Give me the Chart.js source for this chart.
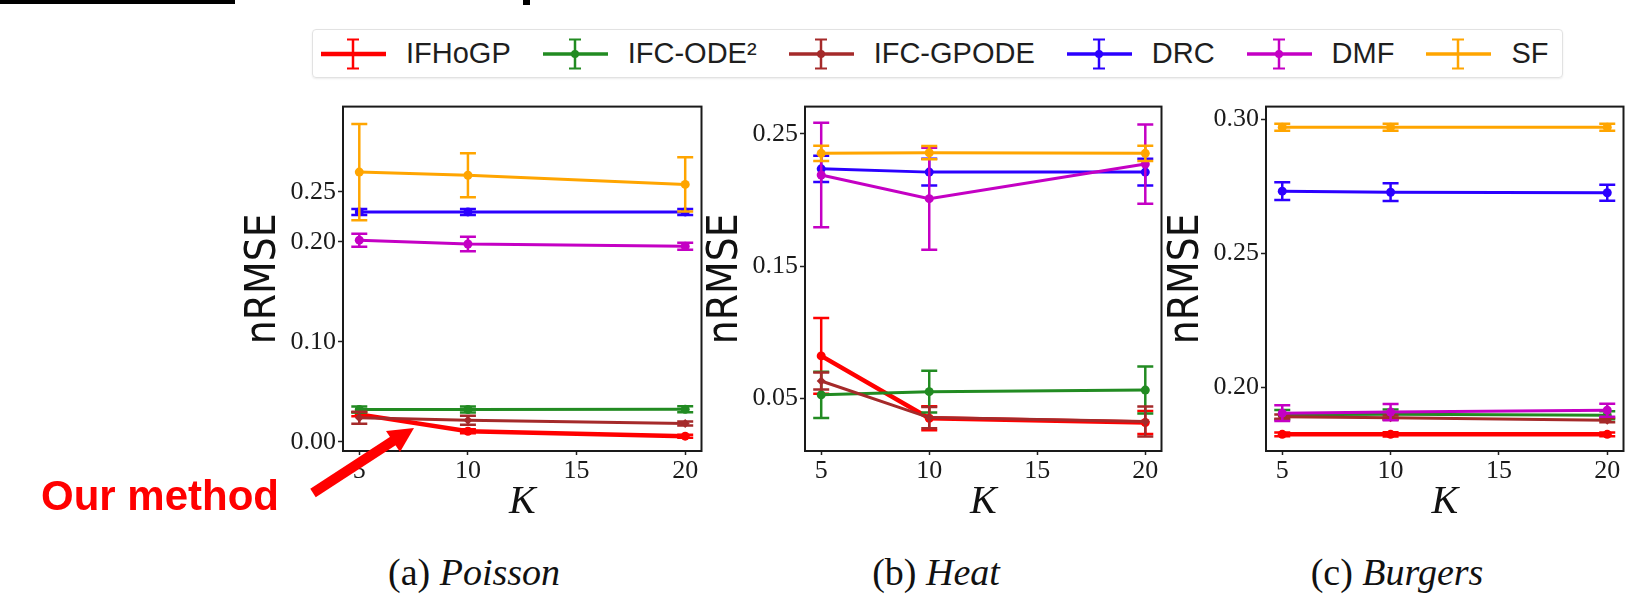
<!DOCTYPE html>
<html>
<head>
<meta charset="utf-8">
<title>nRMSE vs K</title>
<script src="https://cdn.jsdelivr.net/npm/chart.js@4.4.1/dist/chart.umd.min.js"></script>
<style>
  body { margin: 0; width: 1637px; height: 596px; background: #fff; position: relative; overflow: hidden; }
  .panel { position: absolute; top: 89px; height: 442px; }
  #panelA { left: 243px; width: 463px; }
  #panelB { left: 705px; width: 461px; }
  #panelC { left: 1166px; width: 462px; }
  #legend {
    position: absolute; left: 312px; top: 29px; width: 1241px; height: 47px;
    border: 1px solid #e2e2e2; border-radius: 4px; box-shadow: 0 1px 2px rgba(0,0,0,0.08);
    display: flex; align-items: center; padding-left: 8px; box-sizing: content-box;
    font-family: "Liberation Sans", Arial, sans-serif; font-size: 29px; color: #1e1e1e;
    white-space: nowrap;
  }
  #legend .item { display: flex; align-items: center; margin-right: 32px; flex: none; }
  #legend svg { margin-right: 20px; flex: none; }
  .caption {
    position: absolute; top: 553px; font-family: "Liberation Serif", serif; font-size: 38px;
    line-height: 1; color: #111; white-space: nowrap; transform: translateX(-50%);
  }
  #note {
    position: absolute; left: 41px; top: 475px; font-family: "Liberation Sans", Arial, sans-serif;
    font-weight: bold; font-size: 42px; line-height: 1; color: #ff0000; white-space: nowrap;
  }
  .crop { position: absolute; background: #000; }
</style>
</head>
<body>
<div class="crop" style="left:0;top:0;width:235px;height:4px"></div>
<div class="crop" style="left:523px;top:0;width:7px;height:5px"></div>

<div id="legend"></div>

<div class="panel" id="panelA"><canvas id="chartA"></canvas></div>
<div class="panel" id="panelB"><canvas id="chartB"></canvas></div>
<div class="panel" id="panelC"><canvas id="chartC"></canvas></div>

<div class="caption" style="left:474px">(a) <i>Poisson</i></div>
<div class="caption" style="left:936px">(b) <i>Heat</i></div>
<div class="caption" style="left:1397px">(c) <i>Burgers</i></div>

<div id="note">Our method</div>
<svg width="1637" height="596" style="position:absolute;left:0;top:0;pointer-events:none">
  <line x1="313" y1="493" x2="396" y2="439" stroke="#ff0000" stroke-width="10"/>
  <polygon points="414,428 386,431 400,452" fill="#ff0000"/>
</svg>

<script>
const kValues = [5, 10, 20];
const xTicks = [5, 10, 15, 20];
const methodNames = ['IFHoGP', 'IFC-ODE²', 'IFC-GPODE', 'DRC', 'DMF', 'SF'];
const methodColors = ['#ff0000', '#228b22', '#a52a2a', '#2b00ff', '#c400c4', '#ffa500'];

// (a) Poisson: rows follow methodNames, columns follow kValues
const poissonMean = [
  [0.0276, 0.0107, 0.0058],
  [0.0324, 0.0324, 0.0326],
  [0.0243, 0.0217, 0.0185],
  [0.2298, 0.2298, 0.2298],
  [0.2016, 0.1978, 0.1955],
  [0.2696, 0.2664, 0.2573]
];
const poissonErr = [
  [0.002, 0.002, 0.0015],
  [0.003, 0.003, 0.003],
  [0.006, 0.0045, 0.002],
  [0.003, 0.003, 0.003],
  [0.0065, 0.0073, 0.0035],
  [0.048, 0.022, 0.027]
];
const poissonTicks = [0.00, 0.10, 0.20, 0.25];

// (b) Heat
const heatMean = [
  [0.082, 0.0348, 0.0316],
  [0.0525, 0.0549, 0.0561],
  [0.063, 0.0353, 0.0323],
  [0.2236, 0.2211, 0.2211],
  [0.2189, 0.201, 0.2272],
  [0.2353, 0.2358, 0.2353]
];
const heatErr = [
  [0.0287, 0.009, 0.0087],
  [0.0175, 0.0158, 0.0178],
  [0.0065, 0.008, 0.0114],
  [0.0099, 0.0101, 0.0101],
  [0.0395, 0.0386, 0.030],
  [0.0057, 0.005, 0.0057]
];
const heatTicks = [0.05, 0.15, 0.25];

// (c) Burgers
const burgersMean = [
  [0.1826, 0.1826, 0.1826],
  [0.1899, 0.1901, 0.1897],
  [0.1892, 0.1888, 0.1879],
  [0.2732, 0.2728, 0.2726],
  [0.1905, 0.1909, 0.1916],
  [0.2970, 0.2970, 0.2970]
];
const burgersErr = [
  [0.0007, 0.0008, 0.0007],
  [0.0018, 0.0018, 0.0015],
  [0.0008, 0.0008, 0.0008],
  [0.0033, 0.0033, 0.003],
  [0.0029, 0.003, 0.0024],
  [0.0013, 0.0013, 0.0013]
];
const burgersTicks = [0.20, 0.25, 0.30];

// legend (shared by the three panels)
const legendBox = document.getElementById('legend');
methodNames.forEach((name, i) => {
  const c = methodColors[i];
  const w = i === 0 ? 4.5 : 3.5;
  const dot = (i === 0 || i === 5) ? '' : `<circle cx="32" cy="16" r="4" fill="${c}"/>`;
  const item = document.createElement('div');
  item.className = 'item';
  item.innerHTML =
    `<svg width="65" height="32"><line x1="0" y1="16" x2="65" y2="16" stroke="${c}" stroke-width="${w}"/>` +
    `<line x1="32" y1="1" x2="32" y2="31" stroke="${c}" stroke-width="2.5"/>` +
    `<line x1="26" y1="1.5" x2="38" y2="1.5" stroke="${c}" stroke-width="2"/>` +
    `<line x1="26" y1="30.5" x2="38" y2="30.5" stroke="${c}" stroke-width="2"/>${dot}</svg>` +
    `<span>${name}</span>`;
  legendBox.appendChild(item);
});

// pick a narrow sans for the y title if one is installed, sized to the same word width
function hasFont(name) {
  const c = document.createElement('canvas').getContext('2d');
  c.font = '100px monospace';
  const base = c.measureText('nRMSEmwil').width;
  c.font = `100px "${name}", monospace`;
  return c.measureText('nRMSEmwil').width !== base;
}
const narrowFamily = ['Liberation Sans Narrow', 'DejaVu Sans Condensed', 'Roboto Condensed']
  .find(hasFont) || 'Liberation Sans';
const titleSize = (() => {
  const c = document.createElement('canvas').getContext('2d');
  c.font = `100px "${narrowFamily}"`;
  return Math.min(44, Math.round(132 * 100 / c.measureText('nRMSE').width));
})();

// error bars drawn right after each line so the stacking order is kept
const errorBars = {
  id: 'errorBars',
  afterDatasetDraw(chart, args) {
    const ds = chart.data.datasets[args.index];
    const {ctx, chartArea, scales: {x, y}} = chart;
    ctx.save();
    ctx.beginPath();
    ctx.rect(chartArea.left, chartArea.top, chartArea.right - chartArea.left, chartArea.bottom - chartArea.top);
    ctx.clip();
    ctx.strokeStyle = ds.borderColor;
    ctx.lineWidth = 2.5;
    ds.data.forEach((pt, i) => {
      const px = x.getPixelForValue(pt.x);
      const top = y.getPixelForValue(pt.y + ds.errors[i]);
      const bot = y.getPixelForValue(pt.y - ds.errors[i]);
      ctx.beginPath();
      ctx.moveTo(px, top); ctx.lineTo(px, bot);
      ctx.moveTo(px - 8, top); ctx.lineTo(px + 8, top);
      ctx.moveTo(px - 8, bot); ctx.lineTo(px + 8, bot);
      ctx.stroke();
    });
    ctx.restore();
  }
};

const frameBox = {
  id: 'frameBox',
  afterDraw(chart) {
    const {ctx, chartArea: a} = chart;
    ctx.save();
    ctx.strokeStyle = '#1a1a1a';
    ctx.lineWidth = 2;
    ctx.strokeRect(a.left, a.top, a.right - a.left, a.bottom - a.top);
    ctx.restore();
  }
};

const tickFont = {family: 'Liberation Serif, serif', size: 26};

function makePanel(id, means, errs, yTicks, yMin, yMax) {
  const datasets = means.map((row, m) => ({
    label: methodNames[m],
    data: row.map((v, i) => ({x: kValues[i], y: v})),
    errors: errs[m],
    borderColor: methodColors[m],
    backgroundColor: methodColors[m],
    borderWidth: m === 0 ? 4.5 : 3,
    pointRadius: 4.5,
    pointBorderWidth: 0,
    pointStyle: m === 2 ? 'rectRot' : 'circle',
    tension: 0,
    order: -m
  }));
  return new Chart(document.getElementById(id), {
    type: 'line',
    data: {datasets},
    options: {
      responsive: true,
      maintainAspectRatio: false,
      animation: false,
      layout: {padding: {top: 8, right: 4, left: 0, bottom: 0}},
      plugins: {legend: {display: false}, tooltip: {enabled: false}},
      scales: {
        x: {
          type: 'linear', min: 4.25, max: 20.75,
          afterBuildTicks: s => { s.ticks = xTicks.map(v => ({value: v})); },
          afterFit: s => { s.height = 80; },
          ticks: {font: tickFont, color: '#1a1a1a', padding: 1},
          grid: {drawOnChartArea: false, tickLength: 4, tickColor: '#222', tickWidth: 1.5},
          border: {display: false},
          title: {display: true, text: 'K', color: '#111', padding: {top: 0, bottom: 5},
                  font: {family: 'Liberation Serif, serif', size: 40, style: 'italic'}}
        },
        y: {
          min: yMin, max: yMax,
          afterBuildTicks: s => { s.ticks = yTicks.map(v => ({value: v})); },
          afterFit: s => { s.width = 100; },
          ticks: {font: tickFont, color: '#1a1a1a', padding: 2, callback: v => v.toFixed(2)},
          grid: {drawOnChartArea: false, tickLength: 5, tickColor: '#222', tickWidth: 1.5},
          border: {display: false},
          title: {display: true, text: 'nRMSE', color: '#111', padding: {top: 0, bottom: 0},
                  font: {family: narrowFamily, size: titleSize, lineHeight: 1}}
        }
      }
    },
    plugins: [errorBars, frameBox]
  });
}

makePanel('chartA', poissonMean, poissonErr, poissonTicks, -0.009, 0.335);
makePanel('chartB', heatMean, heatErr, heatTicks, 0.010, 0.2707);
makePanel('chartC', burgersMean, burgersErr, burgersTicks, 0.1764, 0.3047);
</script>
</body>
</html>
